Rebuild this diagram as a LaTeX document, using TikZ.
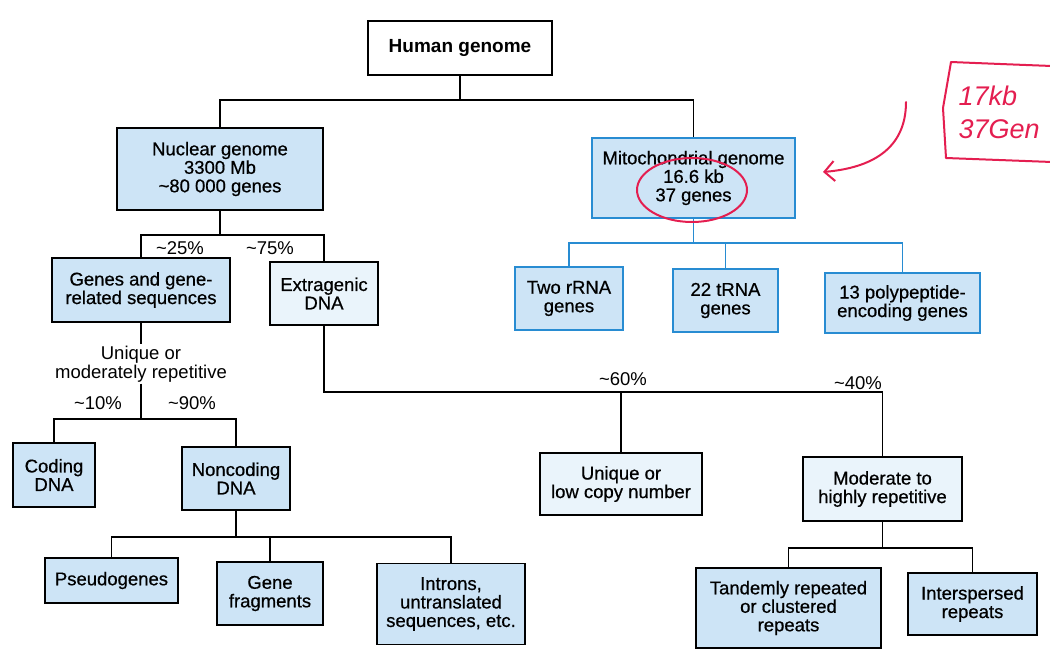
\documentclass[tikz,border=0pt]{standalone}
\usepackage{fontspec}
\setmainfont{Liberation Sans}
\newfontfamily\printfont{Liberation Sans}[FakeBold=0.6]
\usetikzlibrary{arrows.meta,positioning}
\definecolor{boxfill}{RGB}{205,228,246}
\definecolor{palefill}{RGB}{234,244,251}
\definecolor{mitoblue}{RGB}{40,140,210}
\definecolor{penred}{RGB}{228,30,80}

\begin{document}
\begin{tikzpicture}[
    x=1pt, y=-1pt,
    box/.style={draw, line width=1.3pt, fill=boxfill, align=center, inner sep=2pt, font=\printfont\fontsize{18.5}{18.5}\selectfont},
    mbox/.style={box, draw=mitoblue, line width=1.8pt},
    tag/.style={font=\fontsize{18.5}{19.5}\selectfont, align=center, inner sep=1pt},
    link/.style={line width=1.5pt},
    mlink/.style={line width=1.8pt, draw=mitoblue},
    pen/.style={draw=penred, line width=2pt, line cap=round, line join=round}
]
\useasboundingbox (0,0) rectangle (1050,651);
\clip (0,0) rectangle (1050,651);

% top levels
\node[box, fill=white, font=\bfseries\fontsize{19}{19}\selectfont, minimum width=184pt, minimum height=54pt] (human) at (460,48) {Human genome};
\node[box, minimum width=206pt, minimum height=82pt] (nuclear) at (220,169) {Nuclear genome\\3300 Mb\\\textasciitilde80 000 genes};
\node[mbox, minimum width=203pt, minimum height=80pt] (mito) at (693.5,178) {Mitochondrial genome\\16.6 kb\\37 genes};

% nuclear side
\node[box, minimum width=178pt, minimum height=64pt] (genes) at (141,290) {Genes and gene-\\related sequences};
\node[box, fill=palefill, minimum width=108pt, minimum height=63pt] (extra) at (324,293.5) {Extragenic\\DNA};
\node[tag] (uniq) at (141,364) {Unique or\\moderately repetitive};
\node[box, minimum width=82pt, minimum height=64pt] (coding) at (54,475) {Coding\\DNA};
\node[box, minimum width=108pt, minimum height=63pt] (noncod) at (236,478.5) {Noncoding\\DNA};
\node[box, minimum width=133pt, minimum height=45pt] (pseudo) at (111.5,580.5) {Pseudogenes};
\node[box, minimum width=106pt, minimum height=63pt] (frag) at (270,593.5) {Gene\\fragments};
\node[box, minimum width=148pt, minimum height=81pt] (intron) at (451,604) {Introns,\\untranslated\\sequences, etc.};
\node[box, fill=palefill, minimum width=162pt, minimum height=62pt] (lowcopy) at (621,484) {Unique or\\low copy number};
\node[box, fill=palefill, minimum width=159pt, minimum height=64pt] (repet) at (882.5,489) {Moderate to\\highly repetitive};
\node[box, minimum width=185pt, minimum height=80pt] (tandem) at (788.5,608) {Tandemly repeated\\or clustered\\repeats};
\node[box, minimum width=129pt, minimum height=62pt] (inter) at (972.5,604) {Interspersed\\repeats};

% mitochondrial side
\node[mbox, minimum width=108pt, minimum height=63pt] (rrna) at (569,298.5) {Two rRNA\\genes};
\node[mbox, minimum width=105pt, minimum height=63pt] (trna) at (725.5,300.5) {22 tRNA\\genes};
\node[mbox, minimum width=155pt, minimum height=60pt] (poly) at (902.5,303) {13 polypeptide-\\encoding genes};

% percentages
\node[tag] (p25) at (180,248) {\textasciitilde25\%};
\node[tag] (p75) at (270,248) {\textasciitilde75\%};
\node[tag] (p10) at (98,403) {\textasciitilde10\%};
\node[tag] (p90) at (192,403) {\textasciitilde90\%};
\node[tag] (p60) at (623,379) {\textasciitilde60\%};
\node[tag] (p40) at (858,383) {\textasciitilde40\%};

% junctions
\coordinate (hj) at (460,100);
\coordinate (nj) at (220,235);
\coordinate (cj) at (141,419);
\coordinate (ncj) at (236,537);
\coordinate (ej) at (324,392);
\coordinate (rj) at (882.5,548);
\coordinate (mj) at (693.5,243);

\draw[link] (human) -- (hj) -| (nuclear);
\draw[link] (hj) -| (mito);
\draw[link] (nuclear) -- (nj);
\draw[link] (genes) |- (nj) -| (extra);
\draw[link] (genes) -- (uniq);
\draw[link] (uniq) -- (cj);
\draw[link] (coding) |- (cj) -| (noncod);
\draw[link] (noncod) -- (ncj);
\draw[link] (pseudo) |- (ncj) -| (intron);
\draw[link] (frag) -- (frag |- ncj);
\draw[link] (extra) -- (ej) -| (repet);
\draw[link] (lowcopy) -- (lowcopy |- ej);
\draw[link] (repet) -- (rj);
\draw[link] (tandem) |- (rj) -| (inter);
\draw[mlink] (mito) -- (mj);
\draw[mlink] (rrna) |- (mj) -| (poly);
\draw[mlink] (trna) -- (trna |- mj);

% pen marks
\draw[pen] (692,190) ellipse (55 and 32);
\draw[pen, -{Straight Barb[length=10pt, width=20pt]}] (906,102) .. controls (906,150) and (870,168) .. (823,172);
\draw[pen] (1052,66) .. controls (1000,64) .. (951,62) -- (943,108) -- (946,158) -- (1052,162);
\node[font=\itshape\fontsize{27}{33}\selectfont, text=penred, align=left, anchor=west] (note) at (955,112) {17kb\\37Gen};
\end{tikzpicture}
\end{document}
